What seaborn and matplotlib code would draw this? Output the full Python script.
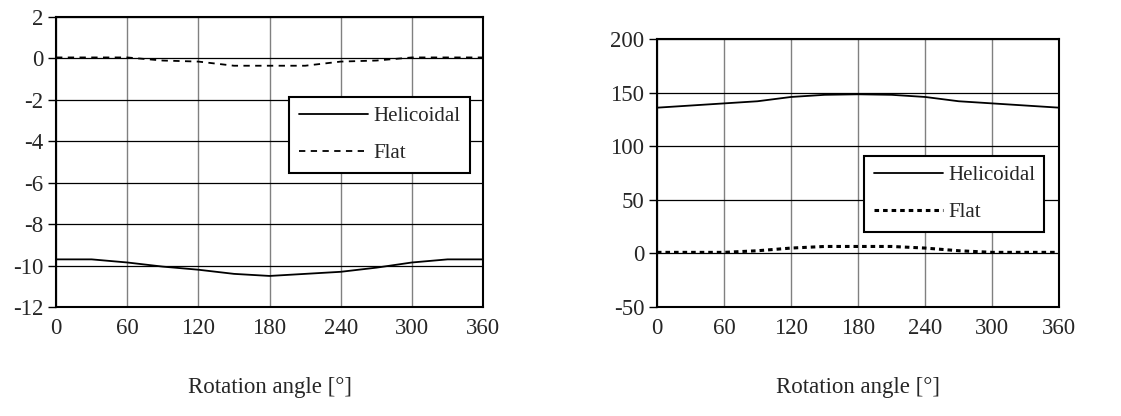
import matplotlib
matplotlib.use("Agg")
import matplotlib.pyplot as plt
import seaborn as sns
import pandas as pd

# rotation angle [deg]
angle = [0, 30, 60, 90, 120, 150, 180, 210, 240, 270, 300, 330, 360]

# left panel
left_helicoidal = [-9.7, -9.7, -9.85, -10.05, -10.2, -10.4, -10.5, -10.4, -10.3, -10.1, -9.85, -9.7, -9.7]
left_flat = [0.05, 0.05, 0.05, -0.1, -0.15, -0.35, -0.35, -0.35, -0.15, -0.1, 0.05, 0.05, 0.05]

# right panel
right_helicoidal = [136, 138, 140, 142, 146, 148, 148.5, 148, 146, 142, 140, 138, 136]
right_flat = [1, 1, 1, 2.5, 5, 6.5, 6.5, 6.5, 5, 2.5, 1, 1, 1]

x_ticks = [0, 60, 120, 180, 240, 300, 360]
left_yticks = [2, 0, -2, -4, -6, -8, -10, -12]
right_yticks = [200, 150, 100, 50, 0, -50]

sns.set_style("white")
plt.rcParams['font.family'] = ['Liberation Serif', 'DejaVu Serif']
plt.rcParams['axes.unicode_minus'] = False
fs = 16.5

fig = plt.figure(figsize=(11.21, 4.16), dpi=100)
ax1 = fig.add_axes([0.050, 0.262, 0.381, 0.697])
ax2 = fig.add_axes([0.586, 0.262, 0.359, 0.644])


def draw(ax, hel, flat, yticks, flat_style, flat_lw, leg_anchor):
    df = pd.DataFrame({'angle': angle, 'Helicoidal': hel, 'Flat': flat})
    sns.lineplot(data=df, x='angle', y='Helicoidal', ax=ax, color='black', lw=1.3, label='Helicoidal')
    sns.lineplot(data=df, x='angle', y='Flat', ax=ax, color='black', lw=flat_lw,
                 linestyle=flat_style, label='Flat')
    ax.set_xlim(0, 360)
    ax.set_ylim(min(yticks), max(yticks))
    ax.set_xticks(x_ticks)
    ax.set_yticks(yticks)
    ax.grid(axis='y', color='black', lw=0.9)
    ax.grid(axis='x', color='#808080', lw=1.0)
    ax.set_axisbelow(True)
    for s in ax.spines.values():
        s.set_color('black')
        s.set_linewidth(1.5)
    ax.tick_params(axis='x', length=0, pad=8, labelsize=fs)
    ax.tick_params(axis='y', length=6, width=1, color='black', direction='out', left=True,
                   pad=3, labelsize=fs)
    ax.set_xlabel('Rotation angle [°]', labelpad=27, fontsize=fs)
    ax.set_ylabel('')
    leg = ax.legend(loc='upper left', bbox_to_anchor=leg_anchor, borderaxespad=0,
                    frameon=True, fancybox=False, handlelength=3.35, handletextpad=0.23,
                    labelspacing=0.85, borderpad=0.45, fontsize=15)
    leg.get_frame().set_edgecolor('black')
    leg.get_frame().set_linewidth(1.5)
    leg.get_frame().set_alpha(1)


draw(ax1, left_helicoidal, left_flat, left_yticks, (0, (3.5, 3)), 1.3, (0.546, 0.724))
draw(ax2, right_helicoidal, right_flat, right_yticks, (0, (1.5, 1.3)), 2.2, (0.515, 0.563))

fig.savefig('out.png', dpi=100)
